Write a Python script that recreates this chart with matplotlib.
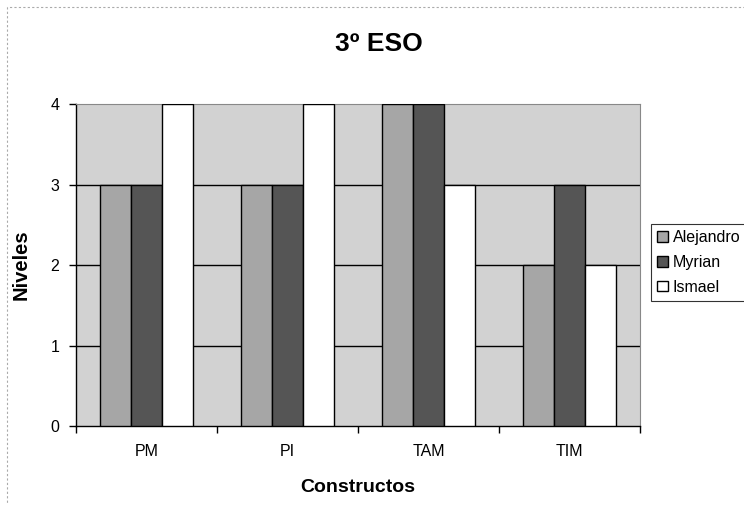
import numpy as np
import matplotlib.pyplot as plt
from matplotlib.patches import Rectangle

# datos del gráfico
constructos = ["PM", "PI", "TAM", "TIM"]
alejandro = [3, 3, 4, 2]
myrian = [3, 3, 4, 3]
ismael = [4, 4, 3, 2]
alumnos = ["Alejandro", "Myrian", "Ismael"]
colores = ["#a6a6a6", "#555555", "#ffffff"]

plt.rcParams['font.family'] = ['Liberation Sans', 'DejaVu Sans']

fig = plt.figure(figsize=(7.44, 5.05), dpi=100)
ax = fig.add_axes([0.1022, 0.1564, 0.758, 0.6376])
ax.set_facecolor("#d2d2d2")

x = np.arange(len(constructos))
w = 0.222  # ancho de barra (hueco 150%)
series = [alejandro, myrian, ismael]
for k, (vals, nombre, col) in enumerate(zip(series, alumnos, colores)):
    ax.bar(x + (k - 1) * w, vals, w, color=col, edgecolor="black",
           linewidth=1.0, label=nombre, zorder=3)

# líneas de división detrás de las barras
for y in [1, 2, 3]:
    ax.axhline(y, color="black", linewidth=1.0, zorder=1)

ax.set_xlim(-0.5, len(constructos) - 0.5)
ax.set_ylim(0, 4)
ax.set_yticks([0, 1, 2, 3, 4])
ax.set_xticks(np.arange(len(constructos) + 1) - 0.5, minor=False)
ax.set_xticklabels([])
ax.set_xticks(x, minor=True)
ax.set_xticklabels(constructos, minor=True)
ax.tick_params(axis="x", which="major", length=5, width=1, direction="out")
ax.tick_params(axis="x", which="minor", length=0, pad=13, labelsize=11.5)
ax.tick_params(axis="y", length=5, width=1, direction="out", labelsize=11.5, pad=7)

for side in ["left", "bottom"]:
    ax.spines[side].set_linewidth(1.0)
for side in ["top", "right"]:
    ax.spines[side].set_color("#888888")
    ax.spines[side].set_linewidth(0.8)

ax.set_xlabel("Constructos", fontsize=14, fontweight="bold", labelpad=14)
ax.set_ylabel("Niveles", fontsize=14.5, fontweight="bold", labelpad=14)
fig.text(379 / 744, 1 - 44 / 505, "3º ESO", ha="center", va="center",
         fontsize=19, fontweight="bold")

leg = fig.legend(loc="upper left", bbox_to_anchor=(651 / 744, 1 - 224 / 505),
                 fontsize=11.5, frameon=True, fancybox=False, edgecolor="black",
                 handlelength=0.65, handleheight=0.65, handletextpad=0.3,
                 borderpad=0.4, labelspacing=0.6, borderaxespad=0)
leg.get_frame().set_linewidth(0.8)

# borde punteado del área del gráfico
fig.patches.append(Rectangle((7 / 744, -0.01), 0.995, 1 - 7 / 505 + 0.01,
                             transform=fig.transFigure, fill=False,
                             edgecolor="#aaaaaa", linestyle=(0, (2, 2)), linewidth=0.8))

fig.savefig("out.png", dpi=100)
